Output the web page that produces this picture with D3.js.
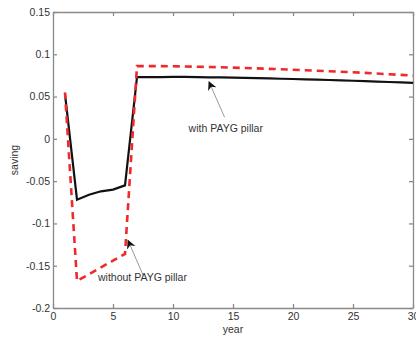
<!DOCTYPE html>
<html>
<head>
<meta charset="utf-8">
<script src="https://cdn.jsdelivr.net/npm/d3@7"></script>
<style>
  body { margin: 0; background: #fff; }
  text { font-family: "Liberation Sans", Arial, sans-serif; }
</style>
</head>
<body>
<div id="chart"></div>
<script>
const years = d3.range(1, 31);
const withPayg = [0.053, -0.072, -0.066, -0.062, -0.060, -0.055,
  0.073, 0.073, 0.073, 0.0732, 0.0732, 0.073, 0.0728, 0.0726, 0.0723, 0.072,
  0.0717, 0.0714, 0.0711, 0.0708, 0.0704, 0.07, 0.0696, 0.0692, 0.0687,
  0.0682, 0.0677, 0.0672, 0.0667, 0.0662];
const withoutPayg = [0.055, -0.168, -0.160, -0.152, -0.144, -0.136,
  0.086, 0.086, 0.086, 0.0858, 0.0856, 0.0853, 0.085, 0.0846, 0.0842, 0.0838,
  0.0833, 0.0828, 0.0823, 0.0818, 0.0812, 0.0806, 0.08, 0.0794, 0.0787,
  0.078, 0.0772, 0.0764, 0.0756, 0.0748];
const xTicks = [0, 5, 10, 15, 20, 25, 30];
const yTicks = [-0.2, -0.15, -0.1, -0.05, 0, 0.05, 0.1, 0.15];

const w = 416, h = 337;
const padLeft = 53, padRight = 413, padTop = 12, padBottom = 308;

const svg = d3.select("#chart").append("svg")
  .attr("width", w).attr("height", h);

const x = d3.scaleLinear().domain([0, 30]).range([padLeft, padRight]);
const y = d3.scaleLinear().domain([-0.2, 0.15]).range([padBottom, padTop]);

const fmt = d => String(+d.toFixed(2));

function styleAxis(g) {
  g.selectAll("path, line").attr("stroke", "#8a8a8a").attr("stroke-width", 1.3);
  g.selectAll("text").attr("fill", "#333").style("font-size", "10.5px")
    .style("font-family", "'Liberation Sans', Arial, sans-serif");
}

svg.append("g").attr("transform", `translate(0,${padBottom})`)
  .call(d3.axisBottom(x).tickValues(xTicks).tickSize(-4).tickSizeOuter(0).tickPadding(5))
  .call(styleAxis);
svg.append("g").attr("transform", `translate(0,${padTop})`)
  .call(d3.axisTop(x).tickValues(xTicks).tickSize(-4).tickSizeOuter(0).tickFormat(""))
  .call(styleAxis);
svg.append("g").attr("transform", `translate(${padLeft},0)`)
  .call(d3.axisLeft(y).tickValues(yTicks).tickSize(-4).tickSizeOuter(0).tickPadding(3).tickFormat(fmt))
  .call(styleAxis);
svg.append("g").attr("transform", `translate(${padRight},0)`)
  .call(d3.axisRight(y).tickValues(yTicks).tickSize(-4).tickSizeOuter(0).tickFormat(""))
  .call(styleAxis);

const line = d3.line().x((d, i) => x(years[i])).y(d => y(d));

svg.append("path").datum(withPayg)
  .attr("d", line).attr("fill", "none")
  .attr("stroke", "#111").attr("stroke-width", 2.2);
svg.append("path").datum(withoutPayg)
  .attr("d", line).attr("fill", "none")
  .attr("stroke", "#ee2a2a").attr("stroke-width", 2.6)
  .attr("stroke-dasharray", "7,5");

// annotations
const defs = svg.append("defs");
defs.append("marker").attr("id", "arr").attr("viewBox", "0 0 10 10")
  .attr("refX", 9).attr("refY", 5).attr("markerWidth", 9).attr("markerHeight", 9)
  .attr("orient", "auto-start-reverse")
  .append("path").attr("d", "M0,0 L10,5 L0,10 L3,5 Z").attr("fill", "#111");

svg.append("line")
  .attr("x1", x(14.3)).attr("y1", y(0.0255))
  .attr("x2", x(13.0)).attr("y2", y(0.0675))
  .attr("stroke", "#999").attr("stroke-width", 1)
  .attr("marker-end", "url(#arr)");
svg.append("text").attr("x", x(11.3)).attr("y", y(0.0085))
  .attr("fill", "#333").style("font-size", "10.5px").text("with PAYG pillar");

svg.append("line")
  .attr("x1", x(7.5)).attr("y1", y(-0.161))
  .attr("x2", x(6.25)).attr("y2", y(-0.120))
  .attr("stroke", "#999").attr("stroke-width", 1)
  .attr("marker-end", "url(#arr)");
svg.append("text").attr("x", x(3.75)).attr("y", y(-0.168))
  .attr("fill", "#333").style("font-size", "10.5px").text("without PAYG pillar");

svg.append("text").attr("x", x(15)).attr("y", 333)
  .attr("text-anchor", "middle").attr("fill", "#333").style("font-size", "10.5px").text("year");
svg.append("text").attr("transform", `translate(18,${y(-0.025)}) rotate(-90)`)
  .attr("text-anchor", "middle").attr("fill", "#333").style("font-size", "10.5px").text("saving");
</script>
</body>
</html>
